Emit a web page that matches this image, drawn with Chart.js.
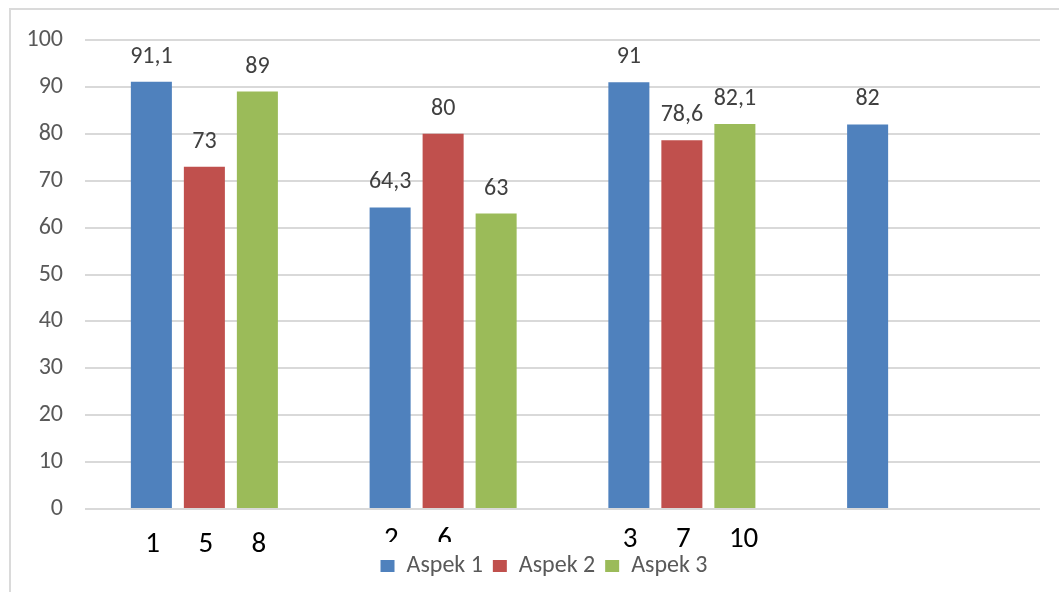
<!DOCTYPE html>
<html><head><meta charset="utf-8">
<script src="https://cdn.jsdelivr.net/npm/chart.js@4/dist/chart.umd.min.js"></script>
<style>
html,body{margin:0;padding:0;background:#fff;overflow:hidden;width:1059px;height:592px}
#frame{position:absolute;left:9px;top:8px;width:1200px;height:800px;border-left:2px solid #dadada;border-top:2px solid #dadada;}
#wrap{position:absolute;left:0;top:0;width:1059px;height:592px}
</style></head><body>
<div id="frame"></div>
<div id="wrap"><canvas id="c" width="1059" height="592"></canvas></div>
<script>
// ---- data ----
const categories = ['Kelompok 1', 'Kelompok 2', 'Kelompok 3', 'Kelompok 4'];
const seriesNames = ['Aspek 1', 'Aspek 2', 'Aspek 3'];
const aspek1 = [91.1, 64.3, 91, 82];
const aspek2 = [73, 80, 78.6, null];
const aspek3 = [89, 63, 82.1, null];
const yTicks = [0, 10, 20, 30, 40, 50, 60, 70, 80, 90, 100];
// numbers written under each bar
const noAspek1 = ['1', '2', '3', ''];
const noAspek2 = ['5', '6', '7', ''];
const noAspek3 = ['8', '', '10', ''];

const colors = ['#4F81BD', '#C0504D', '#9BBB59'];
const FONT = "Carlito, Lato, 'Liberation Sans', sans-serif";

const labelPlugin = {
  id: 'labels',
  afterLayout(chart, args, opts) {
    const lg = chart.legend;
    if (lg && opts.legendShift) { lg.left += opts.legendShift; lg.right += opts.legendShift; }
  },
  afterDatasetsDraw(chart, args, opts) {
    const ctx = chart.ctx;
    const area = chart.chartArea;
    const numbers = [noAspek1, noAspek2, noAspek3];
    chart.data.datasets.forEach((ds, di) => {
      const meta = chart.getDatasetMeta(di);
      meta.data.forEach((bar, i) => {
        const v = ds.data[i];
        if (v !== null && v !== undefined) {
          ctx.save();
          ctx.font = "24px " + FONT;
          ctx.fillStyle = '#404040';
          ctx.textAlign = 'center';
          ctx.textBaseline = 'alphabetic';
          ctx.fillText(String(v).replace('.', ','), bar.x, bar.y - 19);
          ctx.restore();
        }
        const t = numbers[di][i];
        if (t) {
          ctx.save();
          const base = area.bottom + (opts.baseOffsets[i] || 40);
          if (opts.clipGroup === i) {
            ctx.beginPath();
            ctx.rect(0, area.bottom, chart.width, opts.clipOffset);
            ctx.clip();
          }
          ctx.font = "29px " + FONT;
          ctx.fillStyle = '#000';
          ctx.textAlign = 'left';
          ctx.textBaseline = 'alphabetic';
          ctx.fillText(t, bar.x - 6, base);
          ctx.restore();
        }
      });
    });
  }
};

new Chart(document.getElementById('c'), {
  type: 'bar',
  data: {
    labels: categories,
    datasets: [
      { label: seriesNames[0], data: aspek1, backgroundColor: colors[0] },
      { label: seriesNames[1], data: aspek2, backgroundColor: colors[1] },
      { label: seriesNames[2], data: aspek3, backgroundColor: colors[2] }
    ]
  },
  options: {
    responsive: false,
    animation: false,
    devicePixelRatio: 1,
    categoryPercentage: 0.666,
    barPercentage: 0.774,
    layout: { padding: { left: 0, right: 19, top: 40, bottom: 4 } },
    scales: {
      x: {
        grid: { display: false, drawTicks: false },
        border: { display: false },
        ticks: { display: false },
        afterFit: s => { s.height = 35; }
      },
      y: {
        min: 0, max: 100,
        afterBuildTicks: s => { s.ticks = yTicks.map(v => ({ value: v })); },
        afterFit: s => { s.width = 85; },
        grid: { color: '#d9d9d9', lineWidth: 2, drawTicks: false },
        border: { display: false },
        ticks: { color: '#595959', font: { family: FONT, size: 24 }, padding: 22 }
      }
    },
    plugins: {
      legend: {
        position: 'bottom',
        labels: { boxWidth: 14, boxHeight: 12, color: '#595959', font: { family: FONT, size: 24 }, padding: 10 }
      },
      tooltip: { enabled: false },
      labels: { baseOffsets: [43, 38, 38, 38], clipGroup: 1, clipOffset: 33, legendShift: 24 }
    }
  },
  plugins: [labelPlugin]
});
</script>
</body></html>
